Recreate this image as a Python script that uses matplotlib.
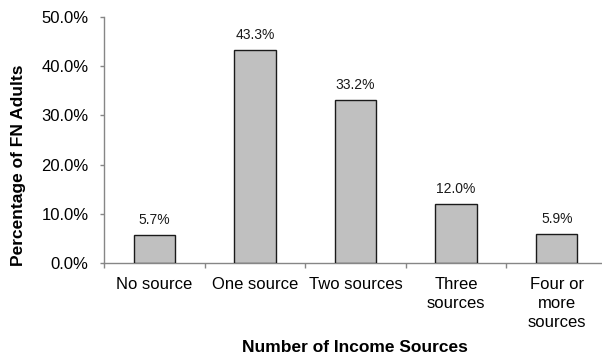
import matplotlib
matplotlib.use("Agg")
import matplotlib.pyplot as plt
from matplotlib.ticker import FuncFormatter, MultipleLocator

categories = ["No source", "One source", "Two sources", "Three\nsources", "Four or\nmore\nsources"]
percentages = [5.7, 43.3, 33.2, 12.0, 5.9]
value_labels = ["5.7%", "43.3%", "33.2%", "12.0%", "5.9%"]

plt.rcParams["font.family"] = ["Liberation Sans", "DejaVu Sans"]

fig = plt.figure(figsize=(6.02, 3.62), dpi=100)
ax = fig.add_axes([104 / 602, 99 / 362, 503 / 602, 246 / 362])

x = list(range(len(categories)))
bars = ax.bar(x, percentages, width=0.41, color="#c0c0c0",
              edgecolor="#1a1a1a", linewidth=1.0, zorder=3)

for rect, lab in zip(bars, value_labels):
    ax.annotate(lab, (rect.get_x() + rect.get_width() / 2, rect.get_height()),
                xytext=(0, 10.5), textcoords="offset points",
                ha="center", va="center", fontsize=10, color="#1a1a1a")

ax.set_xlim(-0.5, len(categories) - 0.5)
ax.set_ylim(0, 50)
ax.yaxis.set_major_locator(MultipleLocator(10))
ax.yaxis.set_major_formatter(FuncFormatter(lambda v, _: f"{v:.1f}%"))

# category labels centred on bars, tick marks on the boundaries
ax.set_xticks(x)
ax.set_xticklabels(categories, fontsize=12, linespacing=1.35)
ax.tick_params(axis="x", which="major", length=0, pad=10)
ax.set_xticks([i - 0.5 for i in range(len(categories) + 1)], minor=True)
ax.tick_params(axis="x", which="minor", length=3.6, width=1, color="#868686")
ax.tick_params(axis="y", length=3, width=1, color="#868686", labelsize=12, pad=8)

for side in ("top", "right"):
    ax.spines[side].set_visible(False)
for side in ("left", "bottom"):
    ax.spines[side].set_color("#868686")
    ax.spines[side].set_linewidth(1)

fig.text(355 / 602, 1 - 348 / 362, "Number of Income Sources",
         ha="center", va="center", fontsize=12.5, fontweight="bold")
fig.text(19 / 602, 1 - 165 / 362, "Percentage of FN Adults",
         ha="center", va="center", rotation=90, fontsize=12.5, fontweight="bold")

fig.savefig("out.png", dpi=100)
